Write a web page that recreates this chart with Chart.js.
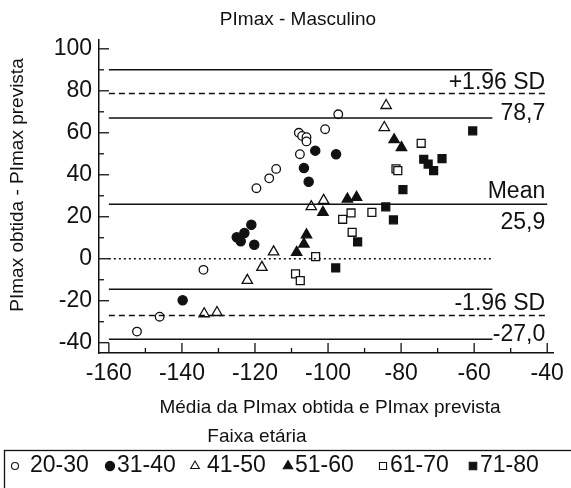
<!DOCTYPE html>
<html>
<head>
<meta charset="utf-8">
<script src="https://cdn.jsdelivr.net/npm/chart.js@4"></script>
<style>
  body { margin:0; background:#fff; }
  canvas { display:block; }
</style>
</head>
<body>
<canvas id="chBA" width="571" height="488"></canvas>
<script>
// Bland-Altman, PImax masculino
var groupLabels = ['20-30', '31-40', '41-50', '51-60', '61-70', '71-80'];

var x2030 = [-97.2, -100.8, -108, -107.1, -105.9, -105.9, -107.7, -114.2, -116.1, -119.6, -134.1, -146.1, -152.3];
var y2030 = [68.8, 61.7, 60.0, 58.5, 57.9, 55.9, 49.8, 42.8, 38.3, 33.6, -5.3, -27.6, -34.7];

var x3140 = [-103.5, -97.8, -106.6, -105.3, -121, -122.9, -125, -123.9, -120.2, -139.8];
var y3140 = [51.5, 49.8, 43.2, 36.7, 16.2, 12.3, 10.2, 8.3, 6.7, -19.8];

var x4150 = [-84.1, -84.6, -101.2, -104.6, -114.9, -118.1, -122.1, -133.9, -130.4];
var y4150 = [73.0, 62.5, 27.8, 24.8, 3.3, -4.1, -10.3, -26.2, -25.6];

var x5160 = [-81.9, -79.9, -94.7, -92.2, -101.4, -105.9, -106.6, -108.6];
var y5160 = [56.7, 53.0, 28.4, 29.3, 22.1, 11.4, 7.0, 3.0];

var x6170 = [-74.5, -81.4, -80.9, -88, -93.7, -96, -93.4, -103.4, -108.9, -107.6];
var y6170 = [55.0, 42.8, 42.0, 22.1, 21.8, 18.8, 12.6, 1.0, -7.2, -10.4];

var x7180 = [-60.4, -73.8, -72.6, -71.1, -68.8, -79.5, -84.2, -82.1, -91.9, -97.9];
var y7180 = [60.9, 47.4, 45.1, 42.0, 47.7, 32.9, 24.7, 18.5, 8.0, -4.4];

// reference lines
var meanDiff = 25.9;
var upperLimit = 78.7;
var lowerLimit = -27.0;
var upperCI = [67.0, 90.0];
var lowerCI = [-14.5, -38.4];
var longSpan = [-160, -40];
var shortSpan = [-160, -55];

var xTicks = [-160, -140, -120, -100, -80, -60, -40];
var xMinor = [-150, -130, -110, -90, -70, -50];
var yTicks = [-40, -20, 0, 20, 40, 60, 80, 100];
var yMinor = [-30, -10, 10, 30, 50, 70, 90];

var ink = '#111';
var fontWord = 'Liberation Sans';

function pts(xs, ys) {
  return xs.map(function (v, i) { return {x: v, y: ys[i]}; });
}
function hline(v, span, dash) {
  return {
    type: 'line', data: [{x: span[0], y: v}, {x: span[1], y: v}],
    borderColor: ink, borderWidth: 1.5, borderDash: dash || [],
    pointRadius: 0, fill: false
  };
}
function grp(xs, ys, style, filled, r) {
  return {
    type: 'scatter', data: pts(xs, ys), pointStyle: style, pointRadius: r,
    backgroundColor: filled ? ink : '#fff', borderColor: ink, borderWidth: 1.3
  };
}

var lineSets = [
  hline(upperCI[1], shortSpan), hline(upperLimit, longSpan, [6, 4]), hline(upperCI[0], shortSpan),
  hline(meanDiff, longSpan),
  hline(0, shortSpan, [2, 3]),
  hline(lowerCI[0], shortSpan), hline(lowerLimit, longSpan, [6, 4]), hline(lowerCI[1], shortSpan)
];
var pointSets = [
  grp(x2030, y2030, 'circle', false, 4.3),
  grp(x3140, y3140, 'circle', true, 4.6),
  grp(x4150, y4150, 'triangle', false, 6),
  grp(x5160, y5160, 'triangle', true, 6),
  grp(x6170, y6170, 'rect', false, 5.6),
  grp(x7180, y7180, 'rect', true, 5.6)
];

var fmt = function (v) { return v.toFixed(1).replace('.', ','); };

var decor = {
  id: 'decor',
  afterDraw: function (chart) {
    var c = chart.ctx, xs = chart.scales.x, ys = chart.scales.y, a = chart.chartArea;
    c.save();
    c.strokeStyle = ink; c.lineWidth = 1.3;
    // inward ticks
    xTicks.concat(xMinor).forEach(function (v) {
      var p = xs.getPixelForValue(v), l = xTicks.indexOf(v) >= 0 ? 10 : 5;
      c.beginPath(); c.moveTo(p, a.bottom); c.lineTo(p, a.bottom - l); c.stroke();
    });
    yTicks.concat(yMinor).forEach(function (v) {
      var p = ys.getPixelForValue(v), l = yTicks.indexOf(v) >= 0 ? 10 : 5;
      c.beginPath(); c.moveTo(a.left, p); c.lineTo(a.left + l, p); c.stroke();
    });

    c.fillStyle = ink;
    // line annotations
    var rx = xs.getPixelForValue(-40) - 2;
    c.font = '23px ' + fontWord; c.textAlign = 'right';
    c.textBaseline = 'alphabetic';
    c.fillText('+1.96 SD', rx, ys.getPixelForValue(upperLimit) - 5);
    c.fillText('Mean', rx, ys.getPixelForValue(meanDiff) - 6);
    c.fillText('-1.96 SD', rx, ys.getPixelForValue(lowerLimit) - 5);
    c.textBaseline = 'top';
    c.fillText(fmt(upperLimit), rx, ys.getPixelForValue(upperLimit) + 9);
    c.fillText(fmt(meanDiff), rx, ys.getPixelForValue(meanDiff) + 7);
    c.fillText(fmt(lowerLimit), rx, ys.getPixelForValue(lowerLimit) + 8);

    // titles
    c.textAlign = 'center'; c.textBaseline = 'middle';
    c.font = '19px ' + fontWord;
    c.fillText('PImax - Masculino', 298, 20);
    c.fillText('Média da PImax obtida e PImax prevista', 330, 408);
    c.save();
    c.translate(18, 185); c.rotate(-Math.PI / 2);
    c.fillText('PImax obtida - PImax prevista', 0, 0);
    c.restore();

    // legend
    c.fillText('Faixa etária', 257, 437);
    c.lineWidth = 1.3;
    c.strokeRect(4.5, 450.5, 600, 60);
    var lx = [15, 110, 195, 288, 383, 473];
    var tx = [30, 117, 207, 295, 390, 480];
    var st = [['circle', false, 3.5], ['circle', true, 4.6], ['triangle', false, 5], ['triangle', true, 5.5], ['rect', false, 5], ['rect', true, 5.3]];
    c.font = '23px Liberation Sans'; c.textAlign = 'left';
    groupLabels.forEach(function (g, i) {
      c.fillStyle = st[i][1] ? ink : '#fff';
      c.strokeStyle = ink; c.lineWidth = 1.1;
      Chart.helpers.drawPoint(c, {pointStyle: st[i][0], radius: st[i][2], rotation: 0, borderWidth: 1.1}, lx[i], 466);
      c.fillStyle = ink;
      c.fillText(g, tx[i], 466);
    });
    c.restore();
  }
};

var tickFont = {family: 'Liberation Sans', size: 23};

new Chart(document.getElementById('chBA'), {
  type: 'scatter',
  data: {datasets: lineSets.concat(pointSets)},
  options: {
    responsive: false,
    animation: false,
    layout: {padding: {left: 0, top: 40, right: 11, bottom: 100}},
    plugins: {legend: {display: false}, tooltip: {enabled: false}},
    scales: {
      x: {
        type: 'linear', min: -162.7, max: -38.2,
        afterBuildTicks: function (ax) { ax.ticks = xTicks.map(function (v) { return {value: v}; }); },
        afterFit: function (ax) { ax.height = 35; },
        grid: {display: false, drawTicks: false},
        border: {display: true, color: ink, width: 1.5},
        ticks: {font: tickFont, color: ink, padding: 7, maxRotation: 0, autoSkip: false}
      },
      y: {
        type: 'linear', min: -44.9, max: 104.2,
        afterBuildTicks: function (ax) { ax.ticks = yTicks.map(function (v) { return {value: v}; }); },
        afterFit: function (ax) { ax.width = 99; },
        grid: {display: false, drawTicks: false},
        border: {display: true, color: ink, width: 1.5},
        ticks: {font: tickFont, color: ink, padding: 7, autoSkip: false}
      }
    }
  },
  plugins: [decor]
});
</script>
</body>
</html>
